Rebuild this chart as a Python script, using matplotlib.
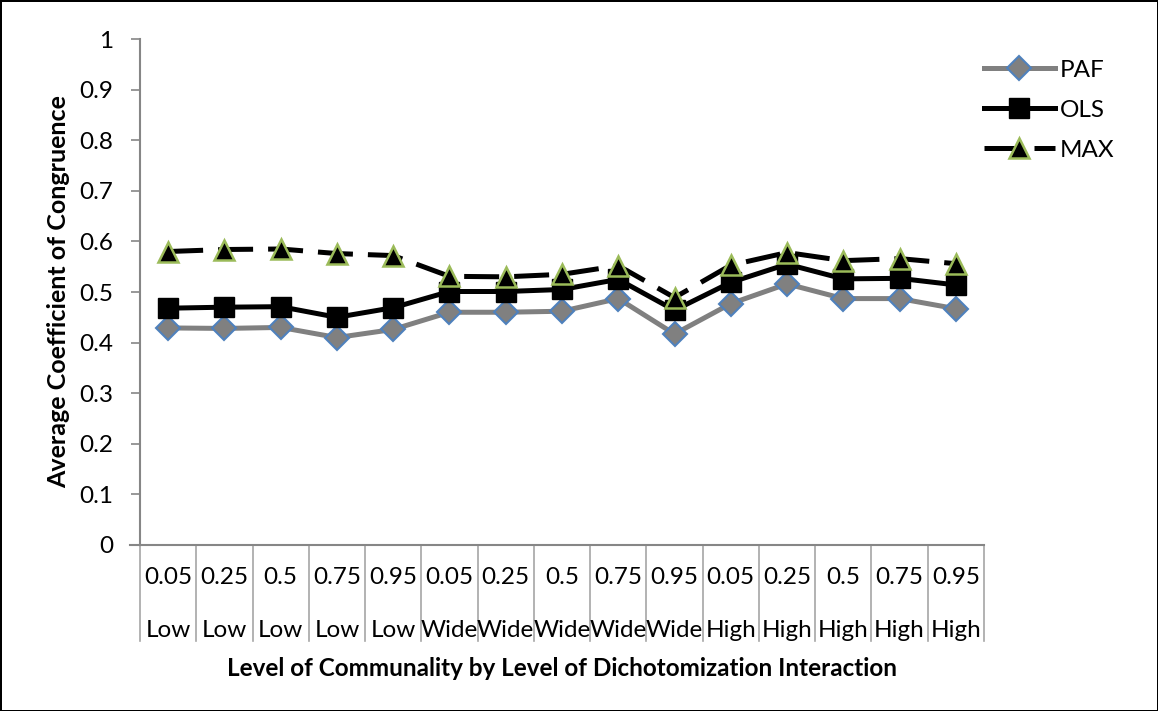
import numpy as np
import matplotlib.pyplot as plt
import matplotlib.transforms as mtransforms

plt.rcParams['font.family'] = ['Lato', 'DejaVu Sans']

# datos
prob = ['0.05', '0.25', '0.5', '0.75', '0.95'] * 3
nivel = ['Low'] * 5 + ['Wide'] * 5 + ['High'] * 5
paf = [0.429, 0.428, 0.430, 0.410, 0.426, 0.460, 0.460, 0.462, 0.487, 0.417,
       0.477, 0.516, 0.487, 0.487, 0.467]
ols = [0.468, 0.470, 0.471, 0.450, 0.469, 0.501, 0.501, 0.505, 0.525, 0.464,
       0.519, 0.555, 0.526, 0.527, 0.514]
maxl = [0.580, 0.584, 0.585, 0.576, 0.572, 0.531, 0.530, 0.535, 0.552, 0.489,
        0.553, 0.578, 0.562, 0.566, 0.556]

fig = plt.figure(figsize=(11.58, 7.11), dpi=100, edgecolor='black', linewidth=2)
ax = fig.add_axes([0.1209, 0.2335, 0.7288, 0.7116])

x = np.arange(len(prob))
ax.plot(x, paf, color='#808080', lw=3.6, marker='D', ms=12,
        markerfacecolor='#808080', markeredgecolor='#4F81BD', markeredgewidth=1.5,
        label='PAF', zorder=3)
ax.plot(x, ols, color='black', lw=3.6, marker='s', ms=14,
        markerfacecolor='black', markeredgecolor='black', label='OLS', zorder=4)
ax.plot(x, maxl, color='black', lw=3.6, linestyle=(0, (7, 3)), marker='^', ms=14,
        markerfacecolor='black', markeredgecolor='#9BBB59', markeredgewidth=1.8,
        label='MAX', zorder=5)

ax.set_xlim(-0.5, len(prob) - 0.5)
ax.set_ylim(0, 1)
ax.set_yticks(np.arange(0, 1.01, 0.1))
ax.set_yticklabels(['0', '0.1', '0.2', '0.3', '0.4', '0.5', '0.6', '0.7', '0.8', '0.9', '1'])
ax.tick_params(axis='y', labelsize=17.5, length=6.5, width=1.2, color='#868686', pad=13)
ax.set_xticks([])

for s in ['top', 'right']:
    ax.spines[s].set_visible(False)
ax.spines['left'].set_color('#868686')
ax.spines['bottom'].set_color('#868686')
ax.spines['left'].set_linewidth(1.5)
ax.spines['bottom'].set_linewidth(1.5)

# etiquetas de categorias en dos filas
trans = mtransforms.blended_transform_factory(ax.transData, ax.transAxes)
for i in range(len(prob)):
    ax.text(i, -0.065, prob[i], transform=trans, ha='center', va='center', fontsize=17.5)
    ax.text(i, -0.17, nivel[i], transform=trans, ha='center', va='center', fontsize=17.5)
for b in np.arange(-0.5, len(prob), 1):
    ax.plot([b, b], [0, -0.19], transform=trans, color='#A6A6A6', lw=1.2, clip_on=False)
ax.plot([-0.68, -0.5], [0, 0], transform=trans, color='#868686', lw=1.5, clip_on=False)

ax.text(0.5, -0.245, 'Level of Communality by Level of Dichotomization Interaction',
        transform=ax.transAxes, ha='center', va='center', fontsize=17.5, fontweight='bold')
ax.set_ylabel('Average Coefficient of Congruence', fontsize=18, fontweight='bold', labelpad=6)

leg = ax.legend(loc='upper left', bbox_to_anchor=(0.988, 0.978), frameon=False, fontsize=17.5,
                handlelength=2.95, handletextpad=0.2, labelspacing=0.78, borderaxespad=0)

fig.savefig('out.png', dpi=100)
